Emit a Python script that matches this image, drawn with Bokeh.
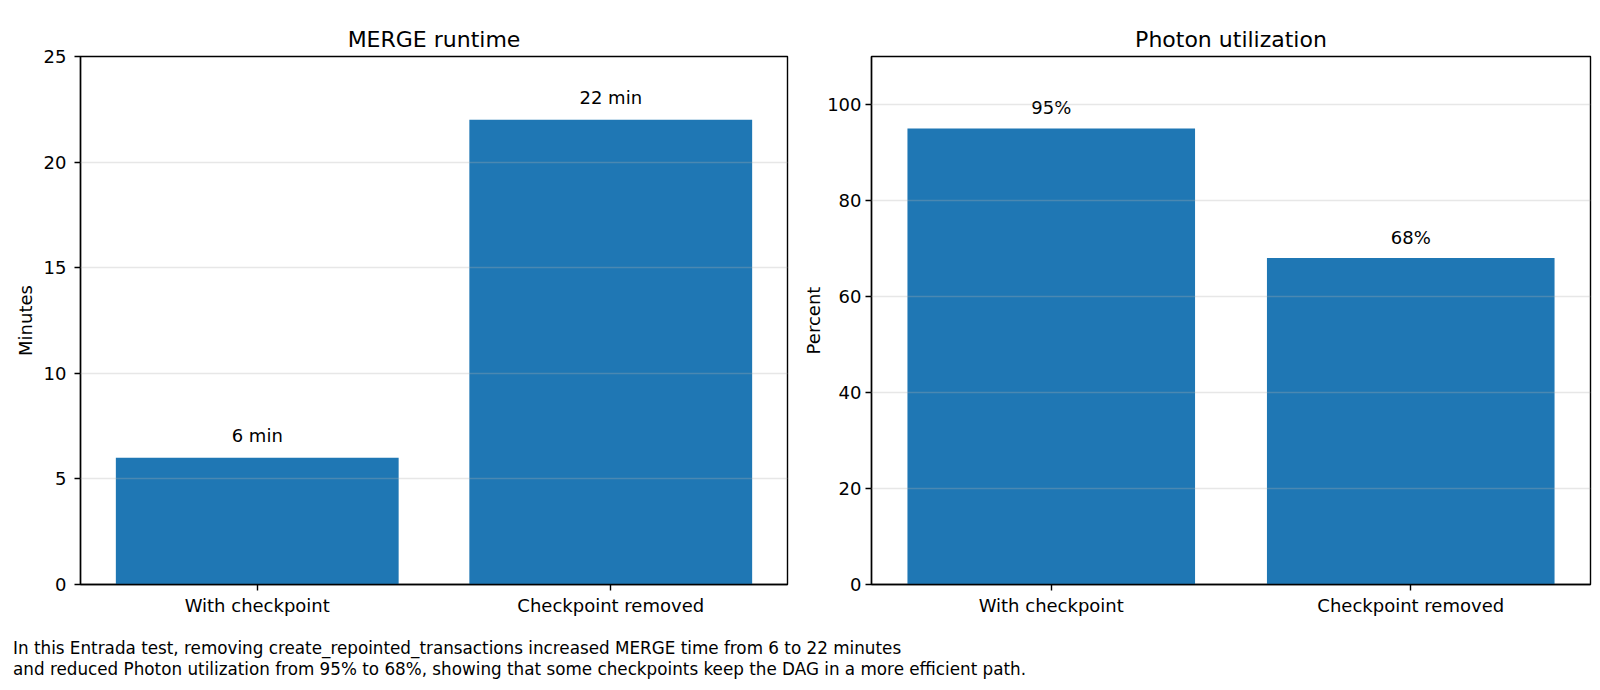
from bokeh.core.properties import value
from bokeh.embed import file_html
from bokeh.layouts import column, row
from bokeh.models import ColumnDataSource, Div, Range1d, SingleIntervalTicker
from bokeh.plotting import figure
from bokeh.resources import INLINE

# data
categories = ["With checkpoint", "Checkpoint removed"]
runtime_minutes = [6, 22]
runtime_labels = ["6 min", "22 min"]
photon_percent = [95, 68]
photon_labels = ["95%", "68%"]

caption = ("In this Entrada test, removing create_repointed_transactions increased MERGE time "
           "from 6 to 22 minutes<br>and reduced Photon utilization from 95% to 68%, showing "
           "that some checkpoints keep the DAG in a more efficient path.")

FONT = "DejaVu Sans"
BLUE = "#1f77b4"


def bar_panel(title, values, labels, ylabel, ymax, step, label_gap, tick_standoff, label_standoff,
              width, border_left, border_right):
    src = ColumnDataSource(dict(cat=categories, val=values, lab=labels))
    p = figure(x_range=categories, y_range=Range1d(0, ymax), width=width, height=633,
               title=title, output_backend="svg", toolbar_location=None,
               min_border_left=border_left, min_border_right=border_right,
               min_border_top=56, min_border_bottom=49)
    p.x_range.range_padding = 0
    p.vbar(x="cat", top="val", width=0.8, source=src, fill_color=BLUE, line_color=None)
    p.text(x="cat", y="val", text="lab", source=src, text_align="center",
           text_baseline="alphabetic", y_offset=-label_gap,
           text_font=value(FONT), text_font_size="18px", text_color="black")

    p.title.text_font = FONT
    p.title.text_font_size = "22px"
    p.title.text_font_style = "normal"
    p.title.align = "center"
    p.title.text_color = "black"

    p.xgrid.grid_line_color = None
    p.ygrid.grid_line_color = "#b0b0b0"
    p.ygrid.grid_line_alpha = 0.3
    p.ygrid.grid_line_width = 1.4
    p.ygrid.level = "overlay"
    p.yaxis.ticker = SingleIntervalTicker(interval=step)
    p.yaxis.axis_label = ylabel

    for ax in (p.xaxis, p.yaxis):
        ax.axis_line_color = "black"
        ax.axis_line_width = 1.4
        ax.major_tick_line_color = "black"
        ax.major_tick_line_width = 1.4
        ax.major_tick_out = 6
        ax.major_tick_in = 0
        ax.minor_tick_line_color = None
        ax.major_label_text_font = FONT
        ax.major_label_text_font_size = "18px"
        ax.major_label_text_color = "black"
        ax.axis_label_text_font = FONT
        ax.axis_label_text_font_size = "18px"
        ax.axis_label_text_font_style = "normal"
        ax.axis_label_text_color = "black"
    p.yaxis.major_label_standoff = tick_standoff
    p.xaxis.major_label_standoff = 4
    p.yaxis.axis_label_standoff = label_standoff

    p.outline_line_color = "black"
    p.outline_line_width = 1.4
    p.outline_line_alpha = 1
    return p


left = bar_panel("MERGE runtime", runtime_minutes, runtime_labels, "Minutes", 25, 5, 22, 8, 5,
                 width=789, border_left=80, border_right=2)
right = bar_panel("Photon utilization", photon_percent, photon_labels, "Percent", 110, 20, 21, 4, 0,
                  width=806, border_left=82, border_right=5)

note = Div(text=caption, width=1500,
           styles={"font-family": FONT, "font-size": "16.8px", "line-height": "21px",
                   "color": "black", "padding-left": "8px"})

layout = column(row(left, right, spacing=0), note)
open("out.html", "w").write(file_html(layout, INLINE))
